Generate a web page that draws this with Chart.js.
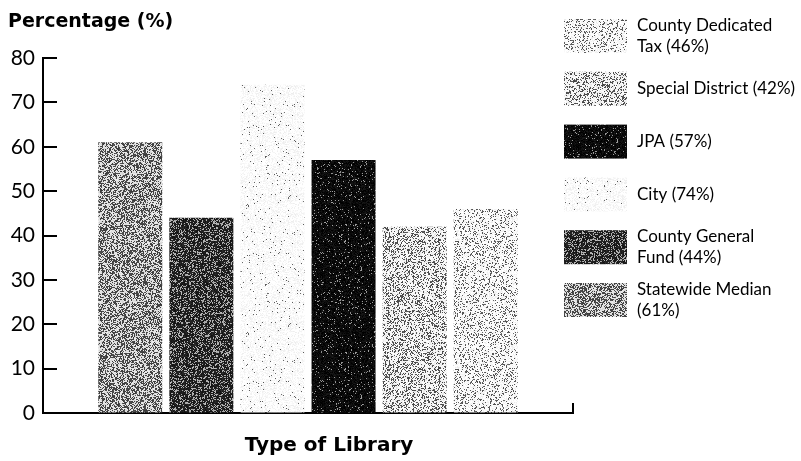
<!DOCTYPE html>
<html>
<head>
<meta charset="utf-8">
<script src="https://cdn.jsdelivr.net/npm/chart.js@4/dist/chart.umd.min.js"></script>
<style>
html,body{margin:0;padding:0;background:#fff;}
#wrap{width:801px;height:461px;position:relative;}
</style>
</head>
<body>
<div id="wrap"><canvas id="c" width="801" height="461"></canvas></div>
<script>
// ---- data ----
const seriesNames = ['Statewide Median', 'County General Fund', 'City', 'JPA', 'Special District', 'County Dedicated Tax'];
const seriesValues = [61, 44, 74, 57, 42, 46];
const legendLines = [
  ['Statewide Median', '(61%)'],
  ['County General', 'Fund (44%)'],
  ['City (74%)'],
  ['JPA (57%)'],
  ['Special District (42%)'],
  ['County Dedicated', 'Tax (46%)']
];
const categories = [''];
const yTicks = [0, 10, 20, 30, 40, 50, 60, 70, 80];

// ---- style ----
// screen tone of each series: share of dark dots, dark dot grey, light grey
const seriesDensity = [0.48, 0.72, 0.025, 0.94, 0.30, 0.20];
const seriesDarkGrey = [70, 30, 100, 10, 80, 90];
const seriesLightGrey = [225, 175, 252, 150, 245, 250];

const FONT = 'Lato, "Liberation Sans", sans-serif';
const BOLD = '"DejaVu Sans", sans-serif';

function lowbias32(x) {
  x ^= x >>> 16; x = Math.imul(x, 0x7feb352d);
  x ^= x >>> 15; x = Math.imul(x, 0x846ca68b);
  x ^= x >>> 16;
  return (x >>> 0) / 4294967296;
}
function stipple(i) {
  const size = 128;
  const cv = document.createElement('canvas');
  cv.width = size; cv.height = size;
  const c = cv.getContext('2d');
  const img = c.createImageData(size, size);
  const base = (i + 1) * 1000003;
  for (let y = 0; y < size; y++) {
    for (let x = 0; x < size; x++) {
      const idx = base + y * size + x;
      const dark = lowbias32(idx) < seriesDensity[i];
      const jitter = lowbias32(idx ^ 0x5bd1e995) * 30 - 15;
      let g = (dark ? seriesDarkGrey[i] : seriesLightGrey[i]) + jitter;
      g = Math.max(0, Math.min(255, Math.round(g)));
      const o = (y * size + x) * 4;
      img.data[o] = g; img.data[o + 1] = g; img.data[o + 2] = g; img.data[o + 3] = 255;
    }
  }
  c.putImageData(img, 0, 0);
  return c.createPattern(cv, 'repeat');
}

const datasets = seriesNames.map((n, i) => ({
  label: n,
  data: [seriesValues[i]],
  backgroundColor: stipple(i),
  borderWidth: 0,
  categoryPercentage: 0.805,
  barPercentage: 0.9
}));

const decor = {
  id: 'decor',
  afterDraw(chart) {
    const ctx = chart.ctx;
    const y = chart.scales.y;
    const ca = chart.chartArea;
    ctx.save();
    ctx.fillStyle = '#000';
    ctx.textAlign = 'left';
    ctx.textBaseline = 'middle';
    // title
    ctx.font = 'bold 19px ' + BOLD;
    ctx.fillText('Percentage (%)', 8, 22);
    // x axis title
    ctx.font = 'bold 20px ' + BOLD;
    ctx.textAlign = 'center';
    ctx.fillText('Type of Library', 329, 446);
    ctx.textAlign = 'left';
    // inside ticks
    ctx.strokeStyle = '#000';
    ctx.lineWidth = 2;
    yTicks.forEach(v => {
      if (v === 0) return;
      const py = Math.round(y.getPixelForValue(v));
      ctx.beginPath();
      ctx.moveTo(ca.left, py);
      ctx.lineTo(ca.left + 14, py);
      ctx.stroke();
    });
    // right end tick of x axis
    ctx.beginPath();
    ctx.moveTo(ca.right, ca.bottom);
    ctx.lineTo(ca.right, ca.bottom - 10);
    ctx.stroke();
    // legend
    ctx.font = '17px ' + FONT;
    const n = chart.data.datasets.length;
    for (let k = 0; k < n; k++) {
      const i = n - 1 - k;
      const ds = chart.data.datasets[i];
      const cy = 36 + k * 52.8;
      ctx.fillStyle = ds.backgroundColor;
      ctx.fillRect(564, cy - 17, 63, 34);
      ctx.fillStyle = '#000';
      const lines = legendLines[i];
      const lh = 21;
      lines.forEach((t, j) => {
        ctx.fillText(t, 637, cy + (j - (lines.length - 1) / 2) * lh);
      });
    }
    ctx.restore();
  }
};

new Chart(document.getElementById('c'), {
  type: 'bar',
  data: { labels: categories, datasets },
  options: {
    responsive: false,
    animation: false,
    layout: { padding: { left: 0, right: 228, top: 58, bottom: 0 } },
    plugins: { legend: { display: false }, tooltip: { enabled: false } },
    scales: {
      x: {
        grid: { display: false, drawTicks: false },
        border: { display: true, color: '#000', width: 2 },
        ticks: { display: false },
        afterFit(s) { s.height = 48; }
      },
      y: {
        min: 0, max: 80,
        afterBuildTicks(s) { s.ticks = yTicks.map(v => ({ value: v })); },
        grid: { drawOnChartArea: false, drawTicks: false },
        border: { display: true, color: '#000', width: 2 },
        ticks: { color: '#000', padding: 8, font: { family: FONT, size: 21 } },
        afterFit(s) { s.width = 43; }
      }
    }
  },
  plugins: [decor]
});
</script>
</body>
</html>
